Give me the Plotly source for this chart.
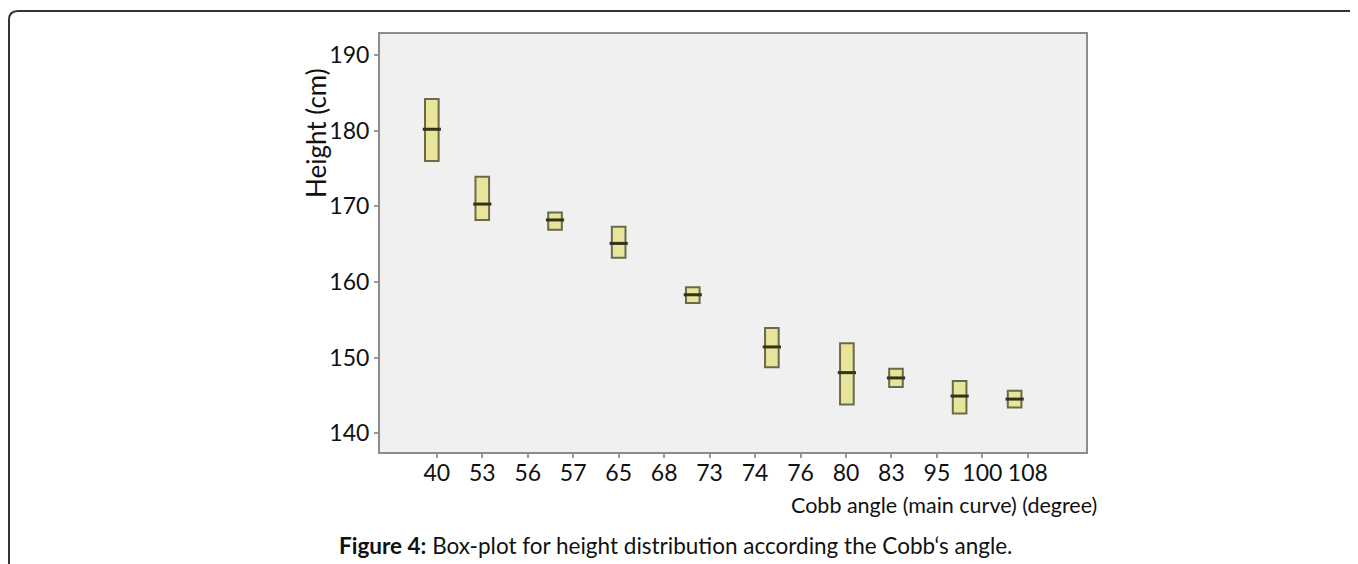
import plotly.graph_objects as go

# =========================
# data
# =========================
tick_labels = ["40", "53", "56", "57", "65", "68", "73", "74", "76", "80", "83", "95", "100", "108"]
tick_pos = list(range(len(tick_labels)))

# box centres, in tick-index units (they don't sit exactly on the ticks in the original)
box_x = [-0.11, 1.0, 2.6, 4.0, 5.63, 7.37, 9.02, 10.1, 11.5, 12.71]
q1 = [176.0, 168.2, 166.9, 163.2, 157.2, 148.7, 143.8, 146.1, 142.6, 143.4]
median = [180.2, 170.3, 168.2, 165.1, 158.3, 151.4, 148.0, 147.3, 144.9, 144.5]
q3 = [184.2, 173.9, 169.2, 167.3, 159.3, 153.9, 151.9, 148.5, 146.9, 145.6]

FONT = "Lato"
PAGE_OFF = 8  # the html body has an 8px margin
W, H = 1358 - PAGE_OFF, 564 - PAGE_OFF
L, T = 380 - PAGE_OFF, 34 - PAGE_OFF
R, B = W - (1086 - PAGE_OFF), H - (452 - PAGE_OFF)

fig = go.Figure()

for i in range(len(box_x)):
    fig.add_trace(go.Box(
        x=[box_x[i]],
        q1=[q1[i]], median=[median[i]], q3=[q3[i]],
        lowerfence=[q1[i]], upperfence=[q3[i]],
        width=0.3,
        fillcolor="#e8e49c",
        line=dict(color="#6a6a48", width=2),
        showlegend=False,
        hoverinfo="y",
    ))

# thicker dark median bars
fig.add_trace(go.Scatter(
    x=box_x, y=median, mode="markers",
    marker=dict(symbol="line-ew", size=13, line=dict(color="#33331c", width=3)),
    showlegend=False, hoverinfo="skip",
))


# page pixel -> paper helpers for the decoration
def px(x):
    return (x - PAGE_OFF - L) / (W - L - R)


def py(y):
    return 1 - (y - PAGE_OFF - T) / (H - T - B)


# page frame: top line + left line with a rounded corner
fig.add_shape(type="path", xref="paper", yref="paper",
              path=f"M {px(9)},{py(620)} L {px(9)},{py(20)} Q {px(9)},{py(11)} {px(18)},{py(11)} L {px(1400)},{py(11)}",
              line=dict(color="#333333", width=2))

fig.add_annotation(text="Height (cm)", xref="paper", yref="paper",
                   x=px(316), y=py(133), xanchor="center", yanchor="middle",
                   textangle=-90, showarrow=False,
                   font=dict(family=FONT, size=26, color="#111111"))
fig.add_annotation(text="Cobb angle (main curve) (degree)", xref="paper", yref="paper",
                   x=px(1099), y=py(505), xanchor="right", yanchor="middle", showarrow=False,
                   font=dict(family=FONT, size=21.5, color="#111111"))
fig.add_annotation(text="<b>Figure 4:</b> Box-plot for height distribution according the Cobb‘s angle.",
                   xref="paper", yref="paper", x=px(675), y=py(545),
                   xanchor="center", yanchor="middle", showarrow=False,
                   font=dict(family=FONT, size=22.5, color="#111111"))

fig.update_layout(
    width=W, height=H,
    margin=dict(l=L, r=R, t=T, b=B),
    paper_bgcolor="white",
    plot_bgcolor="#f0f0f0",
    font=dict(family=FONT, size=23, color="#111111"),
    xaxis=dict(
        range=[-1.25, 14.28],
        tickvals=tick_pos, ticktext=tick_labels,
        ticks="outside", ticklen=4, tickwidth=2, tickcolor="#999999",
        ticklabelstandoff=-5,
        showgrid=False, zeroline=False,
        showline=True, mirror=True, linecolor="#8c8c8c", linewidth=2,
    ),
    yaxis=dict(
        range=[137.5, 192.8],
        tickvals=[140, 150, 160, 170, 180, 190],
        ticks="outside", ticklen=4, tickwidth=2, tickcolor="#999999",
        showgrid=False, zeroline=False,
        showline=True, mirror=True, linecolor="#8c8c8c", linewidth=2,
    ),
)

fig.write_html("out.html")
